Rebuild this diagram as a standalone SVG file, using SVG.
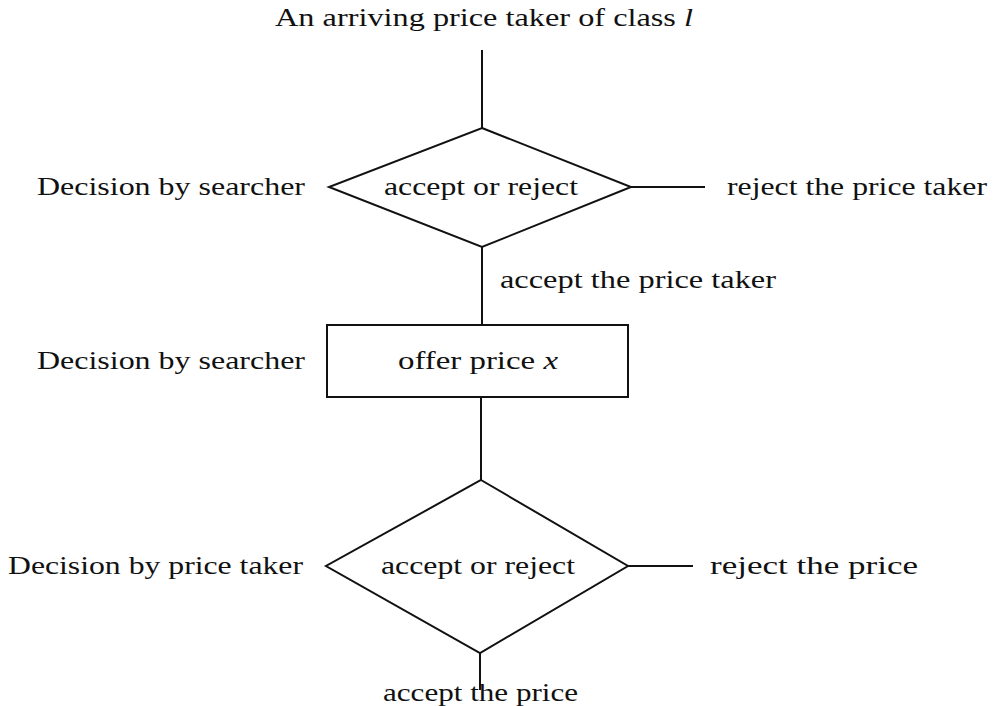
<svg xmlns="http://www.w3.org/2000/svg" width="1000" height="706" viewBox="0 0 1000 706">
<style>
text{font-family:"Liberation Serif","DejaVu Serif",serif;font-size:26px;fill:#111}
.it{font-style:italic}
.shape{fill:none;stroke:#111;stroke-width:2}
.conn line{stroke:#111;stroke-width:2}
</style>
<rect width="1000" height="706" fill="#fff"/>
<g id="connectors" class="conn">
<line x1="482" y1="50" x2="482" y2="128"/>
<line x1="631" y1="187" x2="705" y2="187"/>
<line x1="482" y1="247" x2="482" y2="325"/>
<line x1="481" y1="397" x2="481" y2="480"/>
<line x1="628" y1="566" x2="693" y2="566"/>
<line x1="480" y1="653" x2="480" y2="690"/>
</g>
<g id="start"><text x="275" y="26" textLength="418" lengthAdjust="spacingAndGlyphs">An arriving price taker of class <tspan class="it">l</tspan></text></g>
<g id="decision1">
<polygon class="shape" points="482,128 631,187 482,247 329,187"/>
<text x="384" y="195" textLength="194" lengthAdjust="spacingAndGlyphs">accept or reject</text>
</g>
<g id="label1"><text x="37" y="195" textLength="268" lengthAdjust="spacingAndGlyphs">Decision by searcher</text></g>
<g id="reject1"><text x="727" y="195" textLength="260" lengthAdjust="spacingAndGlyphs">reject the price taker</text></g>
<g id="accept1"><text x="500" y="288" textLength="276" lengthAdjust="spacingAndGlyphs">accept the price taker</text></g>
<g id="offer">
<rect class="shape" x="327" y="325" width="301" height="72"/>
<text x="398" y="369" textLength="160" lengthAdjust="spacingAndGlyphs">offer price <tspan class="it">x</tspan></text>
</g>
<g id="label2"><text x="37" y="369" textLength="268" lengthAdjust="spacingAndGlyphs">Decision by searcher</text></g>
<g id="decision2">
<polygon class="shape" points="481,480 628,566 480,653 326,566"/>
<text x="381" y="574" textLength="194" lengthAdjust="spacingAndGlyphs">accept or reject</text>
</g>
<g id="label3"><text x="8" y="574" textLength="295" lengthAdjust="spacingAndGlyphs">Decision by price taker</text></g>
<g id="reject2"><text x="710" y="574" textLength="208" lengthAdjust="spacingAndGlyphs">reject the price</text></g>
<g id="accept2"><text x="383" y="701" textLength="195" lengthAdjust="spacingAndGlyphs">accept the price</text></g>
</svg>
